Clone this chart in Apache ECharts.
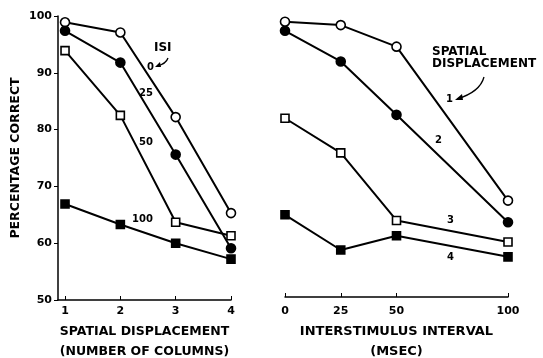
<!DOCTYPE html>
<html>
<head>
<meta charset="utf-8">
<script src="https://cdn.jsdelivr.net/npm/echarts@6/dist/echarts.min.js"></script>
<style>html,body{margin:0;padding:0;background:#fff;}#c{width:543px;height:358px;}</style>
</head>
<body>
<div id="c"></div>
<script>
// Left panel: spatial displacement (columns)
var displacements = [1, 2, 3, 4];
var isi0   = [98.9, 97.1, 82.2, 65.3];
var isi25  = [97.4, 91.8, 75.6, 59.1];
var isi50  = [93.9, 82.5, 63.7, 61.3];
var isi100 = [66.9, 63.3, 60.0, 57.2];
// Right panel: interstimulus interval (msec)
var intervals = [0, 25, 50, 100];
var sd1 = [99.0, 98.4, 94.6, 67.5];
var sd2 = [97.4, 92.0, 82.6, 63.7];
var sd3 = [82.0, 75.9, 64.0, 60.2];
var sd4 = [65.0, 58.8, 61.3, 57.6];
var yTicks = [50, 60, 70, 80, 90, 100];

var FONT = 'DejaVu Sans';
function pairs(xs, ys){ return xs.map(function(x,i){return [x, ys[i]];}); }
function ser(xi, data, symbol, filled){
  return {
    type:'line', xAxisIndex:xi, yAxisIndex:xi, data:data,
    symbol:symbol, symbolSize: symbol==='circle'?9:8, showSymbol:true,
    lineStyle:{color:'#000', width:2},
    itemStyle:{color: filled?'#000':'#fff', borderColor:'#000', borderWidth:1.6},
    z: 3, animation:false
  };
}
var chart = echarts.init(document.getElementById('c'), null, {renderer:'canvas'});
var labelStyle = {color:'#000', fontFamily:FONT, fontWeight:'bold', fontSize:11};
chart.setOption({
  backgroundColor:'#fff',
  animation:false,
  grid:[
    {left:58, right:312, top:16, bottom:58, containLabel:false, outerBoundsMode:'none'},
    {left:285, right:35, top:16, bottom:58, containLabel:false, outerBoundsMode:'none'}
  ],
  xAxis:[
    {gridIndex:0, type:'value', min:0.873, max:4,
     axisLine:{lineStyle:{color:'#000', width:1.5}},
     axisTick:{inside:true, length:4, customValues:displacements, lineStyle:{color:'#000'}},
     axisLabel:Object.assign({customValues:displacements, margin:6}, labelStyle),
     splitLine:{show:false},
     name:'SPATIAL DISPLACEMENT\n(NUMBER OF COLUMNS)', nameLocation:'middle', nameGap:22, nameMoveOverlap:false,
     nameTextStyle:{color:'#000', fontFamily:FONT, fontWeight:'bold', fontSize:12.5, lineHeight:20, verticalAlign:'top'}},
    {gridIndex:1, type:'value', min:0, max:100, offset:-3,
     axisLine:{lineStyle:{color:'#000', width:1.5}},
     axisTick:{inside:true, length:4, customValues:intervals, lineStyle:{color:'#000'}},
     axisLabel:Object.assign({customValues:intervals, margin:9}, labelStyle),
     splitLine:{show:false},
     name:'INTERSTIMULUS INTERVAL\n(MSEC)', nameLocation:'middle', nameGap:25, nameMoveOverlap:false,
     nameTextStyle:{color:'#000', fontFamily:FONT, fontWeight:'bold', fontSize:13, lineHeight:20, verticalAlign:'top'}}
  ],
  yAxis:[
    {gridIndex:0, type:'value', min:50, max:100, interval:10,
     axisLine:{show:true, lineStyle:{color:'#000', width:1.5}},
     axisTick:{show:true, inside:false, length:4, lineStyle:{color:'#000'}},
     axisLabel:Object.assign({margin:6}, labelStyle),
     splitLine:{show:false},
     name:'PERCENTAGE CORRECT', nameLocation:'middle', nameGap:36, nameMoveOverlap:false,
     nameTextStyle:{color:'#000', fontFamily:FONT, fontWeight:'bold', fontSize:12.5}},
    {gridIndex:1, type:'value', min:50, max:100, interval:10, show:false}
  ],
  series:[
    ser(0, pairs(displacements, isi0), 'circle', false),
    ser(0, pairs(displacements, isi25), 'circle', true),
    ser(0, pairs(displacements, isi50), 'rect', false),
    ser(0, pairs(displacements, isi100), 'rect', true),
    ser(1, pairs(intervals, sd1), 'circle', false),
    ser(1, pairs(intervals, sd2), 'circle', true),
    ser(1, pairs(intervals, sd3), 'rect', false),
    ser(1, pairs(intervals, sd4), 'rect', true)
  ],
  graphic:[
    {type:'text', left:154, top:42, style:{text:'ISI', fill:'#000', font:'bold 12px "DejaVu Sans"'}},
    {type:'text', left:147, top:62, style:{text:'0', fill:'#000', font:'bold 10px "DejaVu Sans"'}},
    {type:'bezierCurve', shape:{x1:168, y1:58, x2:157, y2:66, cpx1:166, cpy1:64}, style:{stroke:'#000', lineWidth:1.3, fill:null}},
    {type:'polygon', shape:{points:[[155,67],[160,62],[161,67]]}, style:{fill:'#000'}},
    {type:'text', left:139, top:88, style:{text:'25', fill:'#000', font:'bold 10px "DejaVu Sans"'}},
    {type:'text', left:139, top:137, style:{text:'50', fill:'#000', font:'bold 10px "DejaVu Sans"'}},
    {type:'text', left:132, top:214, style:{text:'100', fill:'#000', font:'bold 10px "DejaVu Sans"'}},
    {type:'text', left:432, top:46, style:{text:'SPATIAL\nDISPLACEMENT', fill:'#000', font:'bold 12px "DejaVu Sans"', lineHeight:12}},
    {type:'bezierCurve', shape:{x1:484, y1:77, x2:457, y2:99, cpx1:480, cpy1:92}, style:{stroke:'#000', lineWidth:1.3, fill:null}},
    {type:'polygon', shape:{points:[[455,100],[462,94],[463,100]]}, style:{fill:'#000'}},
    {type:'text', left:446, top:94, style:{text:'1', fill:'#000', font:'bold 10px "DejaVu Sans"'}},
    {type:'text', left:435, top:135, style:{text:'2', fill:'#000', font:'bold 10px "DejaVu Sans"'}},
    {type:'text', left:447, top:215, style:{text:'3', fill:'#000', font:'bold 10px "DejaVu Sans"'}},
    {type:'text', left:447, top:252, style:{text:'4', fill:'#000', font:'bold 10px "DejaVu Sans"'}}
  ]
});
</script>
</body>
</html>
